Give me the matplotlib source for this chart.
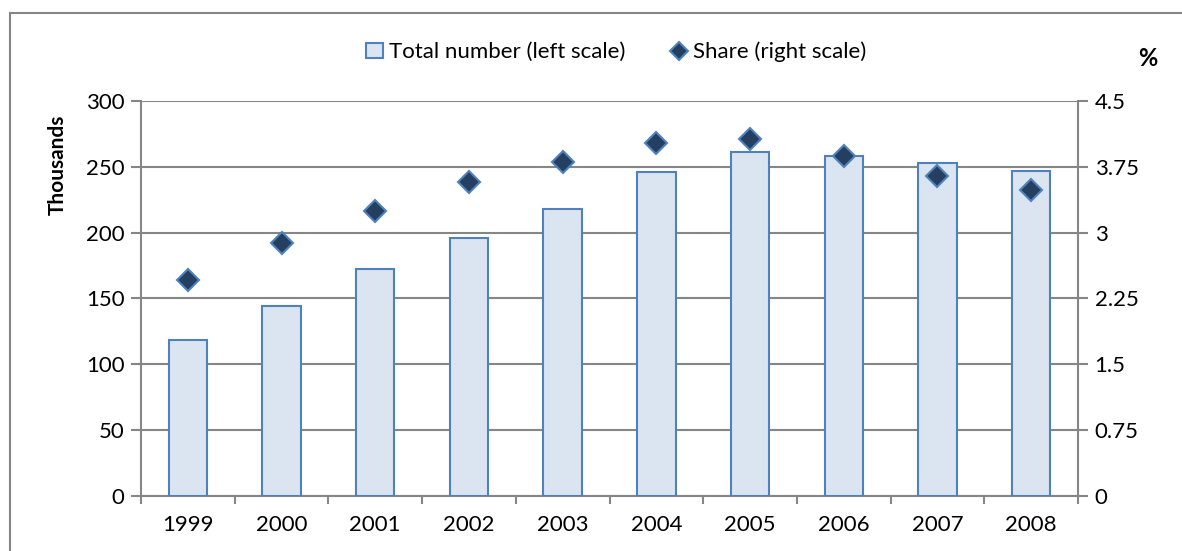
import matplotlib.pyplot as plt
from matplotlib.patches import Rectangle
import numpy as np

years = ['1999', '2000', '2001', '2002', '2003', '2004', '2005', '2006', '2007', '2008']
total_thousands = [118, 144, 172, 196, 218, 246, 261.5, 258.5, 253, 247]
share_pct = [2.46, 2.88, 3.25, 3.58, 3.81, 4.02, 4.07, 3.87, 3.65, 3.48]

left_ticks = [0, 50, 100, 150, 200, 250, 300]
right_ticks = [0, 0.75, 1.5, 2.25, 3, 3.75, 4.5]
right_labels = ['0', '0.75', '1.5', '2.25', '3', '3.75', '4.5']

plt.rcParams['font.family'] = ['Lato', 'DejaVu Sans']
grey = '#868686'
fs = 16

fig = plt.figure(figsize=(11.82, 5.51), dpi=100)
ax = fig.add_axes([141 / 1182, 1 - 495.7 / 551, (1078 - 141) / 1182, (495.7 - 101) / 551])

x = np.arange(len(years))
bars = ax.bar(x, total_thousands, width=0.41, color='#DBE5F1', edgecolor='#4F81BD',
              linewidth=1.5, label='Total number (left scale)', zorder=3)
ax.set_xlim(-0.5, len(years) - 0.5)
ax.set_ylim(0, 300)
ax.set_yticks(left_ticks)
ax.yaxis.grid(True, color=grey, linewidth=1.5, zorder=0)
ax.set_axisbelow(True)

# category ticks at boundaries, labels at centers
ax.set_xticks(np.arange(-0.5, len(years), 1.0))
ax.set_xticklabels([])
ax.set_xticks(x, minor=True)
ax.set_xticklabels(years, minor=True)
ax.tick_params(axis='x', which='minor', length=0, pad=14, labelsize=fs)
ax.tick_params(axis='x', which='major', direction='out', length=6, color=grey, width=1.5)
ax.tick_params(axis='y', direction='out', length=7, color=grey, width=1.5, labelsize=fs, pad=5)

for side in ['top', 'right']:
    ax.spines[side].set_visible(False)
for side in ['left', 'bottom']:
    ax.spines[side].set_color(grey)
    ax.spines[side].set_linewidth(1.5)

ax.set_ylabel('Thousands', fontsize=15, fontweight='bold')
ax.yaxis.set_label_coords(-0.078, 0.838)

ax2 = ax.twinx()
ax2.set_ylim(0, 4.5)
ax2.set_yticks(right_ticks)
ax2.set_yticklabels(right_labels)
ax2.tick_params(axis='y', direction='out', length=7, color=grey, width=1.5, labelsize=fs, pad=5)
for side in ['top', 'left', 'bottom']:
    ax2.spines[side].set_visible(False)
ax2.spines['right'].set_color(grey)
ax2.spines['right'].set_linewidth(1.5)
pts, = ax2.plot(x, share_pct, linestyle='none', marker='D', markersize=11.5,
                markerfacecolor='#243F60', markeredgecolor='#4F81BD', markeredgewidth=1.5,
                label='Share (right scale)', zorder=4)

fig.text(1148 / 1182, 1 - 58 / 551, '%', fontsize=17, fontweight='bold', ha='center', va='center')

leg = fig.legend(handles=[bars, pts], loc='center', bbox_to_anchor=(616 / 1182, 1 - 52 / 551),
                 ncol=2, frameon=False, fontsize=fs, handlelength=0.8, handletextpad=0.25,
                 columnspacing=2.0, markerscale=0.8)

fig.add_artist(Rectangle((10 / 1182, -0.1), 1.2, 1.1 - 13 / 551, transform=fig.transFigure,
                         fill=False, edgecolor=grey, linewidth=1.5))

fig.savefig('out.png', dpi=100)
